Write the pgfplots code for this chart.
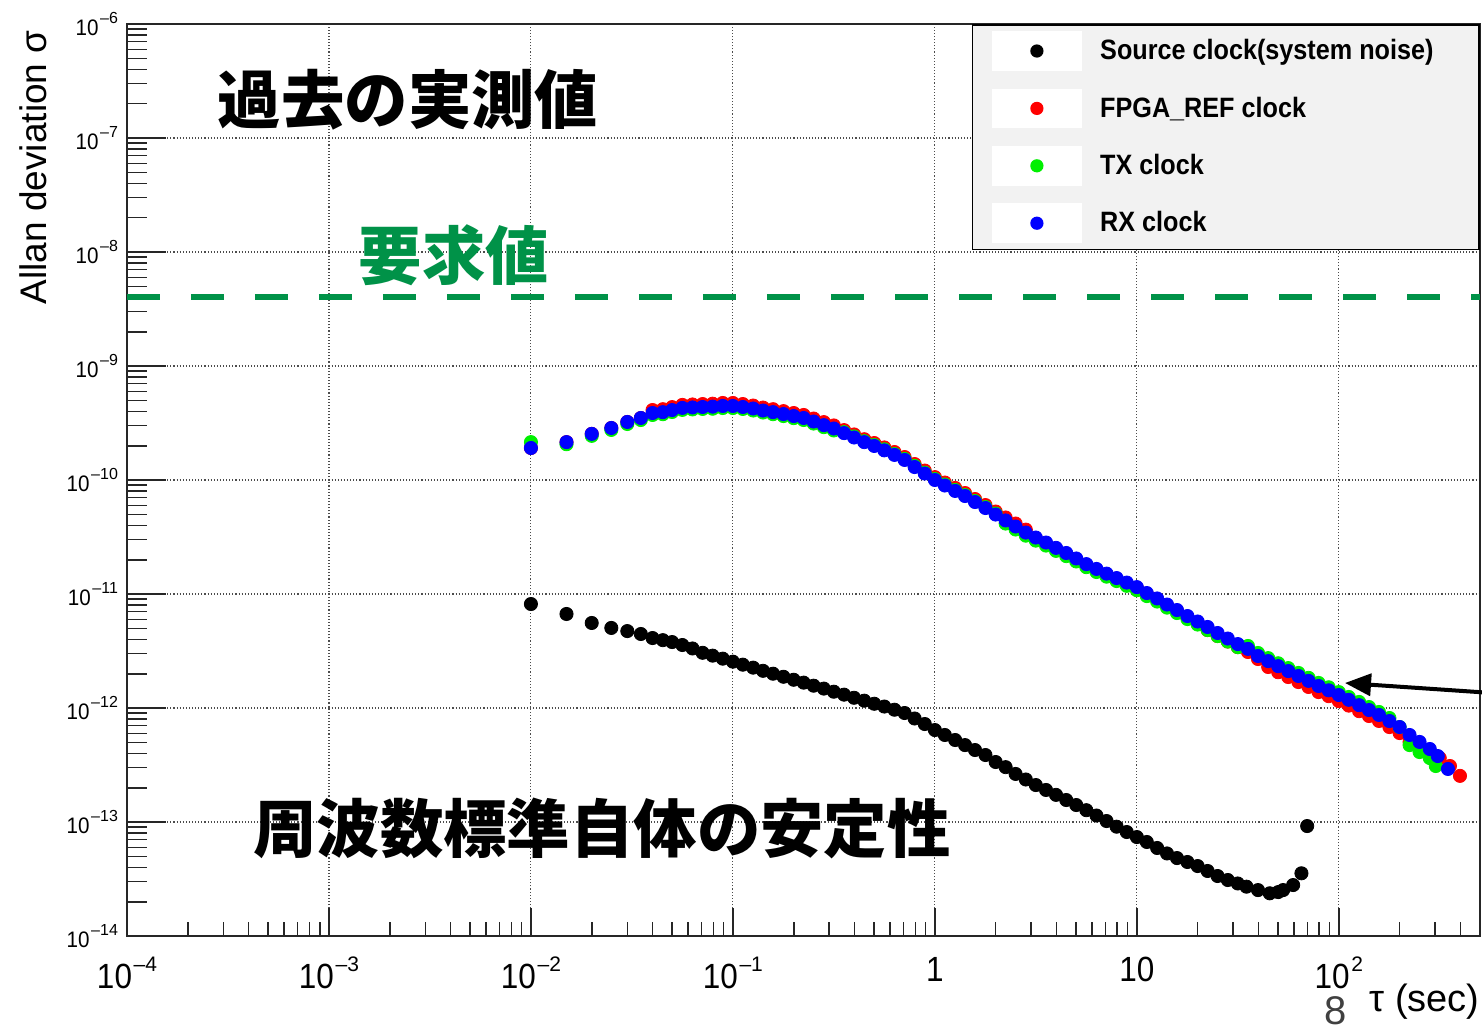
\documentclass[border=0pt]{standalone}
\usepackage{fontspec}
\setmainfont{Liberation Sans}
\newfontfamily\jp{Noto Sans CJK JP}
\usepackage{graphicx}
\usepackage{pgfplots}
\usepackage{pgfplotstable}
\pgfplotsset{compat=1.18}
\usetikzlibrary{arrows.meta}
\definecolor{reqgreen}{RGB}{0,146,72}
\definecolor{lgray}{RGB}{242,242,242}
\definecolor{rred}{RGB}{255,0,0}
\definecolor{rgreen}{RGB}{0,240,0}
\definecolor{rblue}{RGB}{0,0,255}
% x tick labels: base 17.5pt condensed, exponent raised
\newcommand{\xb}[1]{\scalebox{0.9}[1]{#1}}
\newcommand{\xex}[1]{\xb{10}\kern0.8pt\raisebox{8.5pt}{\fontsize{10.5}{11}\selectfont #1}}
% y tick labels
\newcommand{\yex}[1]{\scalebox{0.92}[1]{10}\kern0.8pt\raisebox{6pt}{\fontsize{8}{9}\selectfont #1}}
\newcommand{\mn}{\textendash}

\pgfplotstableread{
tau sigma
0.01 8.17e-12
0.015 6.68e-12
0.02 5.57e-12
0.025 5.04e-12
0.03 4.73e-12
0.035 4.46e-12
0.04 4.11e-12
0.045 3.94e-12
0.05 3.79e-12
0.0562 3.57e-12
0.0631 3.33e-12
0.0708 3.05e-12
0.0794 2.88e-12
0.0891 2.71e-12
0.1 2.55e-12
0.112 2.40e-12
0.126 2.26e-12
0.141 2.12e-12
0.158 2.00e-12
0.178 1.88e-12
0.2 1.77e-12
0.224 1.67e-12
0.251 1.57e-12
0.282 1.48e-12
0.316 1.39e-12
0.355 1.31e-12
0.398 1.23e-12
0.447 1.16e-12
0.501 1.09e-12
0.562 1.03e-12
0.631 9.66e-13
0.708 9.04e-13
0.794 8.09e-13
0.891 7.24e-13
1.0 6.41e-13
1.12 5.80e-13
1.26 5.24e-13
1.41 4.73e-13
1.58 4.28e-13
1.78 3.87e-13
2.0 3.36e-13
2.24 3.03e-13
2.51 2.64e-13
2.82 2.36e-13
3.16 2.11e-13
3.55 1.91e-13
3.98 1.73e-13
4.47 1.56e-13
5.01 1.41e-13
5.62 1.27e-13
6.31 1.14e-13
7.08 1.02e-13
7.94 9.10e-14
8.91 8.17e-14
10 7.38e-14
11.2 6.68e-14
12.6 5.92e-14
14.1 5.30e-14
15.8 4.83e-14
17.8 4.46e-14
20 4.11e-14
22.4 3.72e-14
25.1 3.36e-14
28.2 3.10e-14
31.6 2.89e-14
34.9 2.71e-14
39.8 2.53e-14
45.5 2.37e-14
50.1 2.43e-14
53.0 2.53e-14
59.4 2.80e-14
65.3 3.55e-14
69.7 9.22e-14
}\srcdata

\pgfplotstableread{
tau sigma
0.01 1.91e-10
0.015 2.15e-10
0.02 2.54e-10
0.025 2.86e-10
0.03 3.23e-10
0.035 3.50e-10
0.04 4.11e-10
0.045 4.18e-10
0.05 4.36e-10
0.0562 4.56e-10
0.0631 4.60e-10
0.0708 4.64e-10
0.0794 4.67e-10
0.0891 4.74e-10
0.1 4.74e-10
0.112 4.64e-10
0.126 4.50e-10
0.141 4.32e-10
0.158 4.18e-10
0.178 4.02e-10
0.2 3.87e-10
0.224 3.72e-10
0.251 3.46e-10
0.282 3.22e-10
0.316 3.01e-10
0.355 2.74e-10
0.398 2.51e-10
0.447 2.28e-10
0.501 2.11e-10
0.562 1.93e-10
0.631 1.76e-10
0.708 1.59e-10
0.794 1.38e-10
0.891 1.21e-10
1 1.06e-10
1.12 9.50e-11
1.26 8.52e-11
1.41 7.69e-11
1.58 6.81e-11
1.78 6.03e-11
2.0 5.29e-11
2.24 4.69e-11
2.51 4.15e-11
2.82 3.67e-11
3.16 3.07e-11
3.55 2.77e-11
3.98 2.49e-11
4.47 2.24e-11
5.01 2.01e-11
5.62 1.79e-11
6.31 1.63e-11
7.08 1.48e-11
7.94 1.35e-11
8.91 1.23e-11
10 1.13e-11
11.2 1.00e-11
12.6 8.96e-12
14.1 7.93e-12
15.8 7.10e-12
17.8 6.28e-12
20 5.63e-12
22.4 4.83e-12
25.1 4.28e-12
28.2 3.83e-12
31.6 3.42e-12
35.5 3.10e-12
39.8 2.69e-12
44.7 2.29e-12
50.1 2.06e-12
56.2 1.87e-12
63.1 1.69e-12
70.8 1.53e-12
79.4 1.38e-12
89.1 1.27e-12
100 1.15e-12
112 1.05e-12
126 9.39e-13
141 8.51e-13
158 7.70e-13
178 6.81e-13
200 6.03e-13
224 5.04e-13
251 4.55e-13
282 4.11e-13
316 3.64e-13
355 3.10e-13
398 2.54e-13
}\fpgadata

\pgfplotstableread{
tau sigma
0.01 2.15e-10
0.015 2.06e-10
0.02 2.44e-10
0.025 2.75e-10
0.03 3.10e-10
0.035 3.36e-10
0.04 3.72e-10
0.045 3.78e-10
0.05 3.95e-10
0.0562 4.12e-10
0.0631 4.16e-10
0.0708 4.20e-10
0.0794 4.22e-10
0.0891 4.28e-10
0.1 4.28e-10
0.112 4.20e-10
0.126 4.07e-10
0.141 3.91e-10
0.158 3.78e-10
0.178 3.64e-10
0.2 3.49e-10
0.224 3.36e-10
0.251 3.13e-10
0.282 2.91e-10
0.316 2.72e-10
0.355 2.63e-10
0.398 2.41e-10
0.447 2.19e-10
0.501 2.03e-10
0.562 1.86e-10
0.631 1.69e-10
0.708 1.53e-10
0.794 1.33e-10
0.891 1.16e-10
1 1.02e-10
1.12 9.13e-11
1.26 8.18e-11
1.41 7.38e-11
1.58 6.54e-11
1.78 5.79e-11
2.0 5.08e-11
2.24 4.15e-11
2.51 3.68e-11
2.82 3.25e-11
3.16 2.94e-11
3.55 2.66e-11
3.98 2.39e-11
4.47 2.15e-11
5.01 1.93e-11
5.62 1.72e-11
6.31 1.56e-11
7.08 1.42e-11
7.94 1.30e-11
8.91 1.18e-11
10 1.08e-11
11.2 9.59e-12
12.6 8.59e-12
14.1 7.60e-12
15.8 6.81e-12
17.8 6.03e-12
20 5.40e-12
22.4 4.83e-12
25.1 4.28e-12
28.2 3.83e-12
31.6 3.42e-12
35.5 3.50e-12
39.8 3.04e-12
44.7 2.74e-12
50.1 2.47e-12
56.2 2.24e-12
63.1 2.03e-12
70.8 1.84e-12
79.4 1.66e-12
89.1 1.52e-12
100 1.38e-12
112 1.25e-12
126 1.13e-12
141 1.02e-12
158 9.23e-13
178 8.17e-13
200 6.81e-13
224 4.73e-13
251 4.11e-13
282 3.64e-13
302 3.10e-13
}\txdata

\pgfplotstableread{
tau sigma
0.01 1.91e-10
0.015 2.15e-10
0.02 2.54e-10
0.025 2.86e-10
0.03 3.23e-10
0.035 3.50e-10
0.04 3.87e-10
0.045 3.94e-10
0.05 4.11e-10
0.0562 4.29e-10
0.0631 4.33e-10
0.0708 4.37e-10
0.0794 4.40e-10
0.0891 4.46e-10
0.1 4.46e-10
0.112 4.37e-10
0.126 4.24e-10
0.141 4.07e-10
0.158 3.94e-10
0.178 3.79e-10
0.2 3.64e-10
0.224 3.50e-10
0.251 3.26e-10
0.282 3.03e-10
0.316 2.83e-10
0.355 2.58e-10
0.398 2.36e-10
0.447 2.15e-10
0.501 1.99e-10
0.562 1.82e-10
0.631 1.66e-10
0.708 1.50e-10
0.794 1.30e-10
0.891 1.14e-10
1 1.00e-10
1.12 8.95e-11
1.26 8.02e-11
1.41 7.24e-11
1.58 6.41e-11
1.78 5.68e-11
2.0 4.98e-11
2.24 4.42e-11
2.51 3.91e-11
2.82 3.46e-11
3.16 3.13e-11
3.55 2.83e-11
3.98 2.54e-11
4.47 2.29e-11
5.01 2.05e-11
5.62 1.83e-11
6.31 1.66e-11
7.08 1.51e-11
7.94 1.38e-11
8.91 1.26e-11
10 1.15e-11
11.2 1.02e-11
12.6 9.14e-12
14.1 8.09e-12
15.8 7.24e-12
17.8 6.41e-12
20 5.74e-12
22.4 5.14e-12
25.1 4.55e-12
28.2 4.07e-12
31.6 3.64e-12
35.5 3.30e-12
39.8 2.86e-12
44.7 2.58e-12
50.1 2.33e-12
56.2 2.11e-12
63.1 1.91e-12
70.8 1.73e-12
79.4 1.56e-12
89.1 1.43e-12
100 1.30e-12
112 1.18e-12
126 1.06e-12
141 9.60e-13
158 8.69e-13
178 7.69e-13
200 6.81e-13
224 5.80e-13
251 5.04e-13
282 4.37e-13
309 3.79e-13
347 2.92e-13
}\rxdata

\pgfplotsset{rootleg/.style={legend image code/.code={%
  \fill[white] (0pt,-9.5pt) rectangle (44.5pt,9.5pt);
  \draw[mark repeat=2,mark phase=2,mark size=2.9pt] plot coordinates {(0pt,0pt) (22.25pt,0pt) (44.5pt,0pt)};}}}

\begin{document}
\begin{tikzpicture}
\begin{axis}[
  scale only axis, width=676.5pt, height=456pt,
  xmode=log, ymode=log,
  xmin=1e-4, xmax=500, ymin=1e-14, ymax=1e-6,
  clip=false,
  axis line style={line width=1pt, black!85},
  tick pos=left, tick align=inside,
  major tick length=19.5pt, minor tick length=10pt,
  xtick style={/pgfplots/major tick length=14pt, /pgfplots/minor tick length=7pt},
  every tick/.style={black!85, line width=0.8pt},
  xtick={1e-4,1e-3,1e-2,1e-1,1,10,100},
  xticklabels={\xex{\mn4},\xex{\mn3},\xex{\mn2},\xex{\mn1},\xb{1},\xb{10},\xex{2}},
  minor xtick={2e-4,3e-4,4e-4,5e-4,6e-4,7e-4,8e-4,9e-4,
    2e-3,3e-3,4e-3,5e-3,6e-3,7e-3,8e-3,9e-3,
    0.02,0.03,0.04,0.05,0.06,0.07,0.08,0.09,
    0.2,0.3,0.4,0.5,0.6,0.7,0.8,0.9,
    2,3,4,5,6,7,8,9,20,30,40,50,60,70,80,90,200,300,400},
  ytick={1e-14,1e-13,1e-12,1e-11,1e-10,1e-9,1e-8,1e-7,1e-6},
  yticklabels={\yex{\mn14},\yex{\mn13},\yex{\mn12},\yex{\mn11},\yex{\mn10},\yex{\mn9},\yex{\mn8},\yex{\mn7},\yex{\mn6}},
  minor ytick={2e-14,3e-14,4e-14,5e-14,6e-14,7e-14,8e-14,9e-14,
    2e-13,3e-13,4e-13,5e-13,6e-13,7e-13,8e-13,9e-13,
    2e-12,3e-12,4e-12,5e-12,6e-12,7e-12,8e-12,9e-12,
    2e-11,3e-11,4e-11,5e-11,6e-11,7e-11,8e-11,9e-11,
    2e-10,3e-10,4e-10,5e-10,6e-10,7e-10,8e-10,9e-10,
    2e-9,3e-9,4e-9,5e-9,6e-9,7e-9,8e-9,9e-9,
    2e-8,3e-8,4e-8,5e-8,6e-8,7e-8,8e-8,9e-8,
    2e-7,3e-7,4e-7,5e-7,6e-7,7e-7,8e-7,9e-7},
  grid=major,
  major grid style={black!70, line width=0.55pt, dash pattern=on 0.55pt off 1pt},
  xticklabel style={font=\fontsize{17.5}{20}\selectfont, yshift=-7pt},
  yticklabel style={font=\fontsize{11.2}{13}\selectfont, xshift=-1pt},
  xlabel={τ (sec)},
  xlabel style={at={(rel axis cs:1,0)}, anchor=north east, yshift=-24pt, inner sep=0pt, font=\fontsize{19}{22}\selectfont},
  ylabel={Allan deviation σ},
  ylabel style={at={([shift={(-47pt,-3pt)}]rel axis cs:0,1)}, anchor=east, inner sep=0pt, font=\fontsize{18.5}{22}\selectfont},
  legend style={at={(rel axis cs:1,1)}, anchor=north east, draw=black, line width=0.8pt, fill=lgray,
    font=\fontsize{14}{16}\selectfont\bfseries, inner xsep=9.5pt, inner ysep=3.2pt, row sep=8.9pt,
    /tikz/every odd column/.append style={column sep=7pt}},
  legend cell align=left,
  every axis plot/.append style={only marks, mark=*, mark size=3.3pt, rootleg},
]
\addplot[reqgreen, line width=2.9pt, dash pattern=on 16.5pt off 15.5pt, no marks, forget plot, sharp plot]
  coordinates {(1e-4,4.03e-9) (500,4.03e-9)};
\addplot[black, mark options={draw=none, fill=black}] table[x=tau,y=sigma] {\srcdata};
\addlegendentry{\makebox[178pt][l]{\scalebox{0.9}[1]{Source clock(system noise)}}}
\addplot[rred, mark options={draw=none, fill=rred}] table[x=tau,y=sigma] {\fpgadata};
\addlegendentry{\scalebox{0.9}[1]{FPGA\_REF clock}}
\addplot[rgreen, mark options={draw=none, fill=rgreen}] table[x=tau,y=sigma] {\txdata};
\addlegendentry{\scalebox{0.9}[1]{TX clock}}
\addplot[rblue, mark options={draw=none, fill=rblue}] table[x=tau,y=sigma] {\rxdata};
\addlegendentry{\scalebox{0.9}[1]{RX clock}}
\node[font={\jp\bfseries\fontsize{31.7}{36}\selectfont}] at (rel axis cs:0.2077,0.9167) {過去の実測値};
\node[font={\jp\bfseries\fontsize{31.7}{36}\selectfont}, text=reqgreen] at (rel axis cs:0.2417,0.7467) {要求値};
\node[font={\jp\bfseries\fontsize{31.7}{36}\selectfont}] at (rel axis cs:0.3511,0.1184) {周波数標準自体の安定性};
\coordinate (SW) at (rel axis cs:0,0);
\coordinate (NE) at (rel axis cs:1,1);
\end{axis}
\draw[line width=2pt, -{Triangle[length=13pt,width=11pt]}] ([shift={(690pt,121pt)}]SW) -- ([shift={(609pt,126.5pt)}]SW);
\node[anchor=north, inner sep=0pt, font=\fontsize{20}{22}\selectfont, text=black!75] at ([shift={(604.5pt,-30pt)}]SW) {8};
\pgfresetboundingbox
\path ([shift={(-63.5pt,-48.5pt)}]SW) rectangle ([shift={(1pt,12pt)}]NE);
\end{tikzpicture}
\end{document}
